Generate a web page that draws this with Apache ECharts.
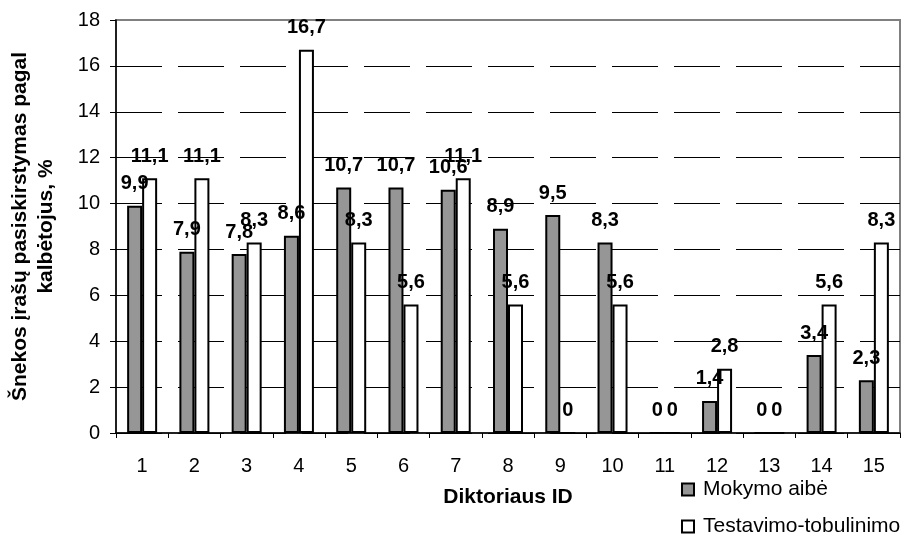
<!DOCTYPE html>
<html>
<head>
<meta charset="utf-8">
<script src="https://cdn.jsdelivr.net/npm/echarts@6/dist/echarts.min.js"></script>
<style>html,body{margin:0;padding:0;background:#fff}#c{width:905px;height:542px}</style>
</head>
<body>
<div id="c"></div>
<script>
const categories = ['1','2','3','4','5','6','7','8','9','10','11','12','13','14','15'];
const mokymo = [9.9, 7.9, 7.8, 8.6, 10.7, 10.7, 10.6, 8.9, 9.5, 8.3, 0, 1.4, 0, 3.4, 2.3];
const testavimo = [11.1, 11.1, 8.3, 16.7, 8.3, 5.6, 11.1, 5.6, 0, 5.6, 0, 2.8, 0, 5.6, 8.3];
const yTicks = [0, 2, 4, 6, 8, 10, 12, 14, 16, 18];

const FONT = '"Liberation Sans", Arial, sans-serif';
const fmt = p => String(p.value).replace('.', ',');
const labelStyle = {
  show: true, position: 'top', distance: 12, formatter: fmt,
  fontFamily: FONT, fontSize: 20, fontWeight: 'bold', color: '#000'
};

const chart = echarts.init(document.getElementById('c'), null, {renderer: 'canvas'});
chart.setOption({
  animation: false,
  backgroundColor: '#fff',
  grid: {left: 116, right: 5, top: 20, bottom: 109, show: true, borderColor: '#808080', borderWidth: 2,
         backgroundColor: 'transparent', containLabel: false, outerBoundsMode: 'none'},
  legend: {
    orient: 'vertical', left: 681, top: 479, padding: 0, height: 70, itemWidth: 12, itemHeight: 12, itemGap: 16,
    icon: 'rect',
    textStyle: {fontFamily: FONT, fontSize: 21, color: '#000', lineHeight: 21, padding: [0, 0, 0, 4]},
    data: ['Mokymo aibė', 'Testavimo-tobulinimo']
  },
  xAxis: {
    type: 'category', data: categories, boundaryGap: true,
    name: 'Diktoriaus ID', nameLocation: 'middle', nameGap: 54,
    nameTextStyle: {fontFamily: FONT, fontSize: 21, fontWeight: 'bold', color: '#000'},
    axisLine: {lineStyle: {color: '#000', width: 1.5}},
    axisTick: {show: true, interval: 0, alignWithLabel: false, length: 5, lineStyle: {color: '#000'}},
    axisLabel: {interval: 0, margin: 23, fontFamily: FONT, fontSize: 20, color: '#000'},
    splitLine: {show: false}
  },
  yAxis: {
    type: 'value', min: yTicks[0], max: yTicks[yTicks.length - 1], interval: yTicks[1] - yTicks[0],
    name: 'Šnekos įrašų pasiskirstymas pagal\nkalbėtojus, %', nameLocation: 'middle', nameGap: 57, nameRotate: 90,
    nameTextStyle: {fontFamily: FONT, fontSize: 21, fontWeight: 'bold', color: '#000', lineHeight: 26, align: 'center'},
    axisLine: {show: true, lineStyle: {color: '#000', width: 1.5}},
    axisTick: {show: true, length: 6, lineStyle: {color: '#000'}},
    axisLabel: {margin: 16, fontFamily: FONT, fontSize: 20, color: '#000'},
    splitLine: {show: true, lineStyle: {color: ['#000','#000','#000','#000','#000','#000','#000','#000','#000','transparent'], width: 1, type: [46, 16]}}
  },
  series: [
    {name: 'Mokymo aibė', type: 'bar', data: mokymo, barWidth: 15, barGap: '0%',
     itemStyle: {color: '#969696', borderColor: '#000', borderWidth: 2}, label: labelStyle},
    {name: 'Testavimo-tobulinimo', type: 'bar', data: testavimo, barWidth: 15, barGap: '0%',
     itemStyle: {color: '#fff', borderColor: '#000', borderWidth: 2}, label: labelStyle}
  ]
});
</script>
</body>
</html>
